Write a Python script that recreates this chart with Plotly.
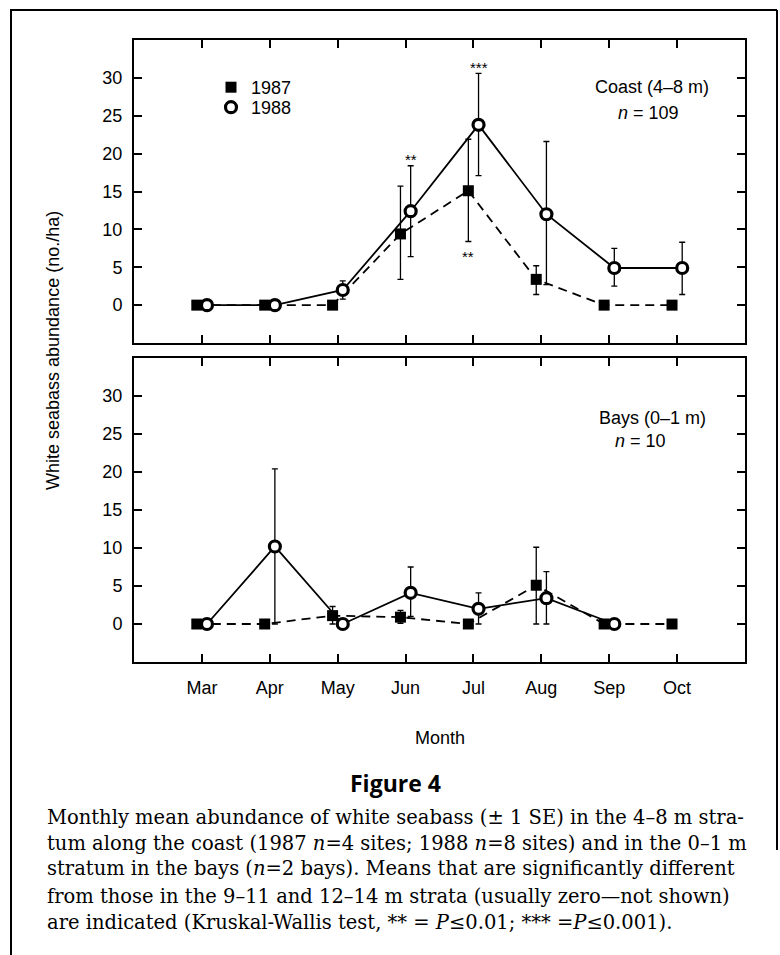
import plotly.graph_objects as go

# ---------------- data ----------------
months = ["Mar", "Apr", "May", "Jun", "Jul", "Aug", "Sep", "Oct"]
month_pos = [3, 4, 5, 6, 7, 8, 9, 10]
y_ticks = [0, 5, 10, 15, 20, 25, 30]

coast_1987 = [0, 0, 0, 9.4, 15.1, 3.4, 0, 0]
coast_1987_hi = [0, 0, 0, 15.7, 21.9, 5.2, 0, 0]
coast_1987_lo = [0, 0, 0, 3.4, 8.4, 1.4, 0, 0]

coast_1988 = [0, 0, 2.0, 12.4, 23.8, 12.0, 4.9, 4.9]
coast_1988_hi = [0, 0, 3.2, 18.4, 30.6, 21.6, 7.5, 8.3]
coast_1988_lo = [0, 0, 0.8, 6.4, 17.1, 2.7, 2.5, 1.4]

bays_1987 = [0, 0, 1.1, 0.9, 0, 5.1, 0, 0]
bays_1987_hi = [0, 0, 2.3, 1.8, 0, 10.1, 0, 0]
bays_1987_lo = [0, 0, 0, 0.1, 0, 0, 0, 0]

bays_1988 = [0, 10.2, 0, 4.1, 2.0, 3.4, 0, None]
bays_1988_hi = [0, 20.4, 0, 7.5, 4.1, 6.9, 0, None]
bays_1988_lo = [0, 0, 0, 1.0, 0, 0, 0, None]

# significance marks: (series, month, label, above?)
sig_marks = [("1988", "Jun", "**", True), ("1988", "Jul", "***", True), ("1987", "Jul", "**", False)]

caption_lines = [
    "Monthly mean abundance of white seabass (± 1 SE) in the 4–8 m stra-",
    "tum along the coast (1987 <i>n</i>=4 sites; 1988 <i>n</i>=8 sites) and in the 0–1 m",
    "stratum in the bays (<i>n</i>=2 bays). Means that are significantly different",
    "from those in the 9–11 and 12–14 m strata (usually zero—not shown)",
    "are indicated (Kruskal-Wallis test, ** = <i>P</i>≤0.01; *** =<i>P</i>≤0.001).",
]

# ---------------- layout geometry ----------------
W, H = 780, 955
ML, MR, MT, MB = 134, 35, 40, 293
PW, PH = W - ML - MR, H - MT - MB


def px_x(px):
    return (px - ML) / PW


def px_y(py):
    return (H - MB - py) / PH


SANS = "Liberation Sans, Arial, Helvetica, sans-serif"
SERIF = "DejaVu Serif, serif"
OFF = 0.075


def errs(v, hi, lo):
    plus = [None if a is None else h - a for a, h in zip(v, hi)]
    minus = [None if a is None else a - l for a, l in zip(v, lo)]
    return plus, minus


fig = go.Figure()

STYLE = {
    "1987": dict(off=-OFF, line=dict(color="black", width=1.8, dash="9px,6px"),
                 marker=dict(symbol="square", size=11, color="black")),
    "1988": dict(off=OFF, line=dict(color="black", width=1.8),
                 marker=dict(symbol="circle", size=11, color="white",
                             line=dict(color="black", width=3.2))),
}


def add_series(v, hi, lo, xa, ya, year):
    plus, minus = errs(v, hi, lo)
    st = STYLE[year]
    xs = [m + st["off"] for m in month_pos]
    fig.add_trace(go.Scatter(
        x=xs, y=v, mode="lines+markers", xaxis=xa, yaxis=ya,
        line=st["line"], marker=st["marker"], showlegend=False, connectgaps=False,
        error_y=dict(type="data", symmetric=False, array=plus, arrayminus=minus,
                     color="black", thickness=1.3, width=3),
    ))


add_series(coast_1987, coast_1987_hi, coast_1987_lo, "x", "y", "1987")
add_series(coast_1988, coast_1988_hi, coast_1988_lo, "x", "y", "1988")
add_series(bays_1987, bays_1987_hi, bays_1987_lo, "x2", "y2", "1987")
add_series(bays_1988, bays_1988_hi, bays_1988_lo, "x2", "y2", "1988")

# legend entries (marker only), one per legend box for exact spacing
fig.add_trace(go.Scatter(x=[None], y=[None], mode="markers", name="1987", legend="legend",
                         marker=STYLE["1987"]["marker"]))
fig.add_trace(go.Scatter(x=[None], y=[None], mode="markers", name="1988", legend="legend2",
                         marker=STYLE["1988"]["marker"]))

annotations = []
# significance asterisks
series_lookup = {
    "1987": (coast_1987_hi, coast_1987_lo, -OFF),
    "1988": (coast_1988_hi, coast_1988_lo, OFF),
}
for yr, mon, lab, above in sig_marks:
    hi, lo, off = series_lookup[yr]
    i = months.index(mon)
    yv = hi[i] + 1.2 if above else lo[i] - 1.6
    annotations.append(dict(x=month_pos[i] + off, y=yv, xref="x", yref="y", text=lab,
                            showarrow=False, yshift=-3,
                            font=dict(family=SANS, size=15, color="black")))


def ptext(x, y, text, size=18, family=SANS, angle=0, xanchor="center"):
    return dict(x=px_x(x), y=px_y(y), xref="paper", yref="paper", text=text,
                showarrow=False, xanchor=xanchor, yanchor="middle", textangle=angle,
                font=dict(family=family, size=size, color="black"))


annotations += [
    ptext(652, 87, "Coast (4–8 m)"),
    ptext(648, 113, "<i>n</i> = 109"),
    ptext(652, 418, "Bays (0–1 m)"),
    ptext(640, 441, "<i>n</i> = 10"),
    ptext(53, 351, "White seabass abundance (no./ha)", angle=-90),
    ptext(440, 738, "Month"),
    ptext(395, 783, "<b>Figure 4</b>", size=23, family="Open Sans, sans-serif"),
]
cap_y = [817, 843, 869, 896, 922]
for txt, cy in zip(caption_lines, cap_y):
    annotations.append(ptext(45, cy, txt, size=19.5, family=SERIF, xanchor="left"))

# outer figure border
shapes = [
    dict(type="line", xref="paper", yref="paper", x0=px_x(10), x1=px_x(777), y0=px_y(10), y1=px_y(10),
         line=dict(color="black", width=2)),
    dict(type="line", xref="paper", yref="paper", x0=px_x(11), x1=px_x(11), y0=px_y(10), y1=px_y(960),
         line=dict(color="black", width=2)),
    dict(type="line", xref="paper", yref="paper", x0=px_x(777), x1=px_x(777), y0=px_y(10), y1=px_y(850),
         line=dict(color="black", width=2)),
]

axis_common = dict(showline=True, linecolor="black", linewidth=2, mirror="allticks",
                   ticks="inside", ticklen=8, tickwidth=2, tickcolor="black",
                   showgrid=False, zeroline=False)

legend_common = dict(xanchor="left", yanchor="top", bgcolor="rgba(0,0,0,0)", borderwidth=0,
                     font=dict(family=SANS, size=18, color="black"), itemwidth=30)

fig.update_layout(
    width=W, height=H,
    margin=dict(l=ML, r=MR, t=MT, b=MB),
    paper_bgcolor="white", plot_bgcolor="white",
    font=dict(family=SANS, size=18, color="black"),
    xaxis=dict(domain=[0, 1], anchor="y", range=[2, 11], tickvals=month_pos,
               showticklabels=False, **axis_common),
    yaxis=dict(domain=[px_y(343), 1], anchor="x", range=[-5, 35], tickvals=y_ticks,
               ticklabelstandoff=6, **axis_common),
    xaxis2=dict(domain=[0, 1], anchor="y2", range=[2, 11], tickvals=month_pos,
                ticktext=months, ticklabelstandoff=8, **axis_common),
    yaxis2=dict(domain=[0, px_y(358)], anchor="x2", range=[-5, 35], tickvals=y_ticks,
                ticklabelstandoff=6, **axis_common),
    showlegend=True,
    legend=dict(x=px_x(211), y=px_y(69), **legend_common),
    legend2=dict(x=px_x(211), y=px_y(89), **legend_common),
    annotations=annotations,
    shapes=shapes,
)

fig.write_html("out.html")
